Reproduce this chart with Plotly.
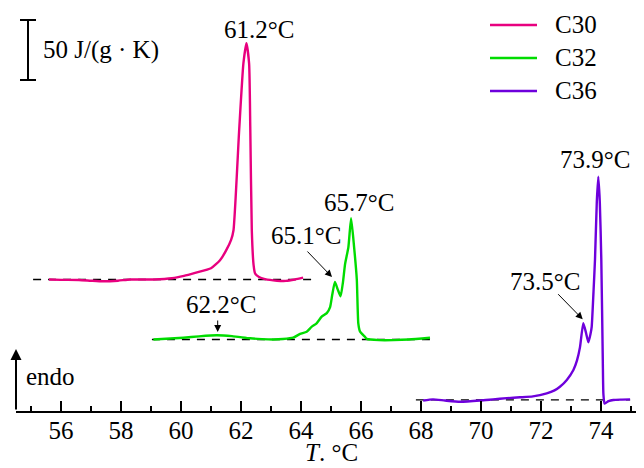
import plotly.graph_objects as go

# ---------------- data ----------------
series = ["C30", "C32", "C36"]
colors = ["#E8007F", "#00DC00", "#6E00DC"]

t_c30 = [55.6, 56.0, 56.6, 57.0, 57.4, 57.9, 58.3, 59.1, 59.7, 60.1, 60.5, 61.0, 61.3, 61.5,
         61.67, 61.75, 61.94, 62.08, 62.18, 62.27, 62.31, 62.36, 62.42, 62.47, 62.6, 62.8,
         63.2, 63.5, 63.8, 64.07]
cp_c30 = [0, -0.3, -0.4, -1, -1.5, -1, 0, 0, 1, 3, 5.7, 9.3, 16, 24,
          33, 41, 125, 180, 197, 180, 125, 41, 12, 5, 2, 0.3,
          -1, -1.2, 0, 1.5]

t_c32 = [59.08, 59.5, 60.08, 60.6, 61.19, 61.7, 62.3, 62.7, 63.08, 63.4, 63.74, 63.97, 64.19,
         64.36, 64.52, 64.69, 64.86, 64.97, 65.04, 65.13, 65.22, 65.32, 65.40, 65.47, 65.58,
         65.67, 65.77, 65.86, 65.91, 65.97, 66.13, 66.19, 66.6, 67.08, 67.6, 68.3]
cp_c32 = [0, 0.6, 1.5, 2.6, 3.5, 2.8, 1, 0.3, 0, 0.4, 1.5, 4.6, 6.5,
          10.7, 13.5, 19, 22, 27, 37, 48, 42, 36, 48, 63, 77,
          101, 77, 50, 13.5, 6.5, 2.3, 0.5, -0.5, -0.5, 0, 1.5]

t_c36 = [68.07, 68.4, 68.8, 69.3, 69.97, 70.4, 70.86, 71.3, 71.73, 72.19, 72.45, 72.63, 72.86,
         73.08, 73.2, 73.3, 73.41, 73.5, 73.58, 73.65, 73.69, 73.75, 73.8, 73.86, 73.91, 73.96,
         74.01, 74.06, 74.08, 74.12, 74.25, 74.41, 74.7, 74.97]
cp_c36 = [-0.5, 0.5, -0.5, -1.5, -0.5, 0.5, 1.5, 2.2, 3, 5.5, 8, 11, 16.7,
          25, 33, 44, 64, 56, 48, 55, 61, 90, 117, 165, 186, 165,
          117, 33, 5, -3, -1, 0, 0.3, 0.5]

temps = [t_c30, t_c32, t_c36]
cps = [cp_c30, cp_c32, cp_c36]
offsets = [109.6, 59.6, 9.2]          # vertical shift of each curve, J/(g*K)
baseline_start = [55.07, 59.03, 67.83]
baseline_end = [64.4, 68.37, 74.97]

peak_labels = ["61.2°C", "65.7°C", "65.1°C", "62.2°C", "73.5°C", "73.9°C"]
x_ticks = [56, 58, 60, 62, 64, 66, 68, 70, 72, 74]
scale_value = 50  # J/(g*K)

# ---------------- layout helpers ----------------
PAGE = 8                      # browser body margin
W, H = 644 - PAGE, 468 - PAGE
ML, MR, MT, MB = 16 - PAGE, 0, 0, 468 - 411
PX_PER_DEG = 30.0
PX_PER_UNIT = 1.2
X0 = 54.5
x_range = [X0, X0 + (W - ML - MR) / PX_PER_DEG]
y_range = [0, (H - MT - MB) / PX_PER_UNIT]
AXIS_Y = 411                  # window pixel of the x axis


def px_x(px):   # window pixel -> data x
    return X0 + (px - 16) / PX_PER_DEG


def px_y(py):   # window pixel -> data y
    return (AXIS_Y - py) / PX_PER_UNIT


def pap_x(px):
    return (px - 16) / (W - ML - MR)


def pap_y(py):
    return (AXIS_Y - py) / (H - MT - MB)


FONT = "Times New Roman, Liberation Serif, DejaVu Serif, serif"

fig = go.Figure()

for name, t, cp, off, col, b0, b1 in zip(series, temps, cps, offsets, colors,
                                         baseline_start, baseline_end):
    fig.add_trace(go.Scatter(
        x=[b0, b1], y=[off, off], mode="lines",
        line=dict(color="black", width=1.3, dash="8px,7px"),
        showlegend=False, hoverinfo="skip"))
    fig.add_trace(go.Scatter(
        x=t, y=[v + off for v in cp], mode="lines", name=name, showlegend=False,
        line=dict(color=col, width=2.4, shape="spline", smoothing=0.5)))

annotations = []
shapes = []

# legend (drawn as key lines + labels)
for i, (name, col) in enumerate(zip(series, colors)):
    yy = 25 + 33 * i
    shapes.append(dict(type="line", xref="paper", yref="paper",
                       x0=pap_x(490), x1=pap_x(537), y0=pap_y(yy), y1=pap_y(yy),
                       line=dict(color=col, width=2.4)))
    annotations.append(dict(xref="paper", yref="paper", x=pap_x(553), y=pap_y(yy),
                            text=name, showarrow=False, xanchor="left", yanchor="middle",
                            font=dict(family=FONT, size=25, color="black")))

text_pos = [(259, 29), (359, 202), (305.5, 235), (220.5, 304), (545, 281), (595, 159)]
for lbl, (cx, cy) in zip(peak_labels, text_pos):
    annotations.append(dict(x=px_x(cx), y=px_y(cy), text=lbl, showarrow=False,
                            xanchor="center", yanchor="middle",
                            font=dict(family=FONT, size=25, color="black")))

arrows = [((306, 250), (332, 277)), ((217.7, 319), (217.7, 332)), ((556.7, 292.7), (582.7, 319.3))]
for (tx, ty), (hx, hy) in arrows:
    annotations.append(dict(x=px_x(hx), y=px_y(hy), ax=tx - hx, ay=ty - hy, text="",
                            showarrow=True, arrowhead=2, arrowsize=1.4, arrowwidth=1,
                            arrowcolor="black", standoff=0, startstandoff=0))

# endo arrow (y direction)
annotations.append(dict(x=X0, y=px_y(349), ax=0, ay=AXIS_Y - 349, text="",
                        showarrow=True, arrowhead=2, arrowsize=1.1, arrowwidth=2,
                        arrowcolor="black", standoff=0))
annotations.append(dict(x=px_x(24), y=px_y(376), text="endo", showarrow=False,
                        xanchor="left", yanchor="middle",
                        font=dict(family=FONT, size=25, color="black")))

# scale bar
scale_top = px_y(20)
bar_x = px_x(28)
shapes += [
    dict(type="line", x0=bar_x, x1=bar_x, y0=scale_top - scale_value, y1=scale_top,
         line=dict(color="black", width=2)),
    dict(type="line", x0=px_x(20), x1=px_x(36), y0=scale_top, y1=scale_top,
         line=dict(color="black", width=2)),
    dict(type="line", x0=px_x(20), x1=px_x(36), y0=scale_top - scale_value,
         y1=scale_top - scale_value, line=dict(color="black", width=2)),
]
annotations.append(dict(x=px_x(41), y=scale_top - scale_value / 2,
                        text="%d J/(g · K)" % scale_value, showarrow=False,
                        xanchor="left", yanchor="middle",
                        font=dict(family=FONT, size=25, color="black")))

# axis title
annotations.append(dict(xref="paper", yref="paper", x=pap_x(331), y=pap_y(468),
                        text="<i>T</i>. °C", showarrow=False, xanchor="center",
                        yanchor="bottom", font=dict(family=FONT, size=25, color="black")))

fig.update_layout(
    width=W, height=H,
    margin=dict(l=ML, r=MR, t=MT, b=MB, pad=0),
    paper_bgcolor="white", plot_bgcolor="white",
    showlegend=False,
    font=dict(family=FONT),
    annotations=annotations,
    shapes=shapes,
    xaxis=dict(range=x_range, showgrid=False, zeroline=False,
               showline=True, linecolor="black", linewidth=2,
               ticks="inside", ticklen=10, tickwidth=1.5, tickcolor="black",
               tickvals=x_ticks, ticktext=[str(v) for v in x_ticks],
               ticklabelstandoff=-4,
               minor=dict(ticks="inside", ticklen=5, tickwidth=1.5, tickcolor="black", dtick=1),
               tickfont=dict(family=FONT, size=25, color="black")),
    yaxis=dict(range=y_range, visible=False, fixedrange=True),
)

fig.write_html("out.html")
